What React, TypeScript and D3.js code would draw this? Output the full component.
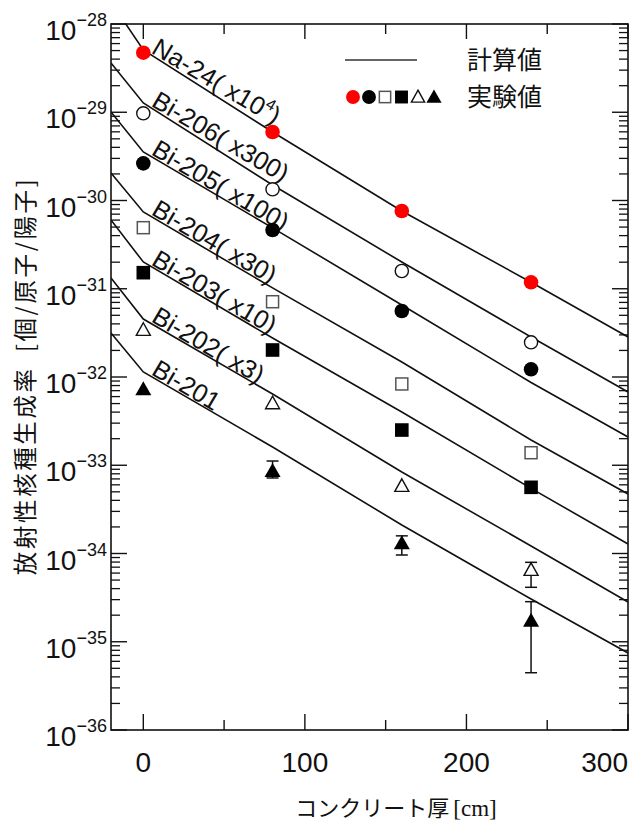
import React from 'react';
import * as d3 from 'd3';

// ---------- data ----------
const xTickMajor = [0, 100, 200, 300];
const xTickMinor = [50, 150, 250];
const yDecades = [-36, -35, -34, -33, -32, -31, -30, -29, -28];

const calcX = [-20, 0, 80, 160, 240, 300];
const na24Calc = [-27.75, -28.295, -29.224, -30.119, -30.927, -31.547];
const bi206Calc = [-28.442, -28.895, -29.824, -30.697, -31.547, -32.17];
const bi205Calc = [-28.997, -29.45, -30.31, -31.184, -32.062, -32.68];
const bi204Calc = [-29.688, -30.13, -30.99, -31.83, -32.714, -33.326];
const bi203Calc = [-30.221, -30.697, -31.558, -32.397, -33.262, -33.892];
const bi202Calc = [-30.878, -31.343, -32.193, -33.076, -33.915, -34.55];
const bi201Calc = [-31.501, -31.943, -32.793, -33.677, -34.516, -35.127];

const expX = [0, 80, 160, 240];
const na24Exp = [-28.325, -29.224, -30.119, -30.927];
const bi206Exp = [-29.012, -29.873, -30.799, -31.607];
const bi205Exp = [-29.579, -30.334, -31.252, -31.913];
const bi204Exp = [-30.308, -31.147, -32.079, -32.858];
const bi203Exp = [-30.818, -31.694, -32.601, -33.25];
const bi202Exp = [-31.467, -32.298, -33.235, -34.187];
const bi201Exp = [-32.139, -33.065, -33.885, -34.761];

// error bars: [x, upper exponent, lower exponent]
const bi202Err = [[240, -34.1, -34.383]];
const bi201Err = [[80, -32.952, -33.144], [160, -33.8, -34.017], [240, -34.546, -35.351]];

const seriesNames = ['Na-24', 'Bi-206', 'Bi-205', 'Bi-204', 'Bi-203', 'Bi-202', 'Bi-201'];
const seriesFactors = ['( x10', '( x300)', '( x100)', '( x30)', '( x10)', '( x3)', ''];
const seriesMarkers = ['red', 'openCircle', 'filledCircle', 'openSquare', 'filledSquare', 'openTriangle', 'filledTriangle'];
const legendMarkers = ['red', 'filledCircle', 'openSquare', 'filledSquare', 'openTriangle', 'filledTriangle'];
const calcSets = [na24Calc, bi206Calc, bi205Calc, bi204Calc, bi203Calc, bi202Calc, bi201Calc];
const expSets = [na24Exp, bi206Exp, bi205Exp, bi204Exp, bi203Exp, bi202Exp, bi201Exp];
const errSets = [[], [], [], [], [], bi202Err, bi201Err];

const legendCalc = '計算値';
const legendExp = '実験値';
const xTitle = 'コンクリート厚';
const xTitleUnit = '[cm]';
const yTitle = '放射性核種生成率\u2002[個/原子/陽子]';

// ---------- layout ----------
const W = 643, H = 824;
const L = 111, R = 628, T = 24, B = 730;
const SANS = '"Liberation Sans", Arial, Helvetica, sans-serif';
const CJK = '"Noto Sans CJK JP", "Noto Sans", sans-serif';

const x = d3.scaleLinear().domain([-20, 300]).range([L, R]);
const y = d3.scaleLog().domain([1e-36, 1e-28]).range([B, T]);
const yE = (e: number) => y(Math.pow(10, e));

function Marker({ type, cx, cy, s = 1 }: { type: string; cx: number; cy: number; s?: number }) {
  const r = 7.3 * s;
  const q = 6.8 * s;
  switch (type) {
    case 'red':
      return <circle cx={cx} cy={cy} r={r} fill="#ff0000" />;
    case 'openCircle':
      return <circle cx={cx} cy={cy} r={r - 0.7} fill="#fff" stroke="#111" strokeWidth={1.4} />;
    case 'filledCircle':
      return <circle cx={cx} cy={cy} r={r} fill="#000" />;
    case 'openSquare':
      return <rect x={cx - q + 0.8} y={cy - q + 0.8} width={2 * q - 1.6} height={2 * q - 1.6} fill="#fff" stroke="#555" strokeWidth={1.5} />;
    case 'filledSquare':
      return <rect x={cx - q} y={cy - q} width={2 * q} height={2 * q} fill="#000" />;
    case 'openTriangle': {
      const w = 8 * s, h1 = 8 * s, h2 = 6 * s;
      return <path d={`M${cx},${cy - h1 + 0.8}L${cx + w - 1},${cy + h2 - 0.6}L${cx - w + 1},${cy + h2 - 0.6}Z`} fill="#fff" stroke="#111" strokeWidth={1.4} />;
    }
    case 'filledTriangle': {
      const w = 8 * s, h1 = 8 * s, h2 = 6 * s;
      return <path d={`M${cx},${cy - h1}L${cx + w},${cy + h2}L${cx - w},${cy + h2}Z`} fill="#000" />;
    }
  }
  return null;
}

export default function App() {
  const line = d3
    .line<[number, number]>()
    .x((d) => x(d[0]))
    .y((d) => yE(d[1]));

  const minorTicks: number[] = [];
  for (let e = -36; e < -28; e++) {
    for (let k = 2; k <= 9; k++) minorTicks.push(e + Math.log10(k));
  }

  const labelAngle = 30.5;

  return (
    <svg width={W} height={H} style={{ position: 'absolute', left: 0, top: 0, background: '#fff' }} fontFamily={SANS}>
      <defs>
        <clipPath id="plotclip">
          <rect x={L} y={T} width={R - L} height={B - T} />
        </clipPath>
      </defs>
      <rect x={0} y={0} width={W} height={H} fill="#fff" />

      {/* calculated lines */}
      <g clipPath="url(#plotclip)">
        {calcSets.map((vals, i) => (
          <path key={i} d={line(calcX.map((cx, j) => [cx, vals[j]] as [number, number])) || ''} fill="none" stroke="#111" strokeWidth={1.6} />
        ))}
      </g>

      {/* labels */}
      {calcSets.map((vals, i) => {
        const x0 = x(calcX[1]);
        const slope = (yE(vals[2]) - yE(vals[1])) / (x(calcX[2]) - x(calcX[1]));
        const lx = x0 + 7;
        const ly = yE(vals[1]) + 7 * slope - 2;
        return (
          <text key={i} transform={`translate(${lx},${ly}) rotate(${labelAngle})`} fontSize={25.5} fill="#111">
            {seriesNames[i]}
            {i === 0 ? (
              <>
                {seriesFactors[i]}
                <tspan fontSize={16} dy={-11}>4</tspan>
                <tspan dy={11}>)</tspan>
              </>
            ) : (
              seriesFactors[i]
            )}
          </text>
        );
      })}

      {/* error bars */}
      {errSets.map((errs, i) =>
        errs.map((e: number[], j: number) => {
          const px = x(e[0]);
          return (
            <g key={`${i}-${j}`} stroke="#111" strokeWidth={1.5}>
              <line x1={px} x2={px} y1={yE(e[1])} y2={yE(e[2])} />
              <line x1={px - 6} x2={px + 6} y1={yE(e[1])} y2={yE(e[1])} />
              <line x1={px - 6} x2={px + 6} y1={yE(e[2])} y2={yE(e[2])} />
            </g>
          );
        })
      )}

      {/* experimental markers */}
      {expSets.map((vals, i) =>
        vals.map((v, j) => <Marker key={`${i}-${j}`} type={seriesMarkers[i]} cx={x(expX[j])} cy={yE(v)} />)
      )}

      {/* frame */}
      <rect x={L} y={T} width={R - L} height={B - T} fill="none" stroke="#111" strokeWidth={1.6} />

      {/* x ticks bottom & top */}
      {xTickMajor.map((t) => (
        <g key={`xm${t}`} stroke="#111" strokeWidth={1.4}>
          <line x1={x(t)} x2={x(t)} y1={B} y2={B - 16} />
          <line x1={x(t)} x2={x(t)} y1={T} y2={T + 15} />
        </g>
      ))}
      {xTickMinor.map((t) => (
        <g key={`xn${t}`} stroke="#111" strokeWidth={1.4}>
          <line x1={x(t)} x2={x(t)} y1={B} y2={B - 10} />
          <line x1={x(t)} x2={x(t)} y1={T} y2={T + 10} />
        </g>
      ))}
      {xTickMajor.map((t, i) => {
        const last = i === xTickMajor.length - 1;
        return (
          <text key={`xl${t}`} x={last ? R : x(t)} y={772} textAnchor={last ? 'end' : 'middle'} fontSize={28} fill="#111">
            {t}
          </text>
        );
      })}

      {/* y ticks left & right */}
      {yDecades.map((e) => (
        <g key={`ym${e}`} stroke="#111" strokeWidth={1.4}>
          <line x1={L} x2={L + 16} y1={yE(e)} y2={yE(e)} />
          <line x1={R} x2={R - 16} y1={yE(e)} y2={yE(e)} />
        </g>
      ))}
      {minorTicks.map((e, i) => (
        <g key={`yn${i}`} stroke="#111" strokeWidth={1.3}>
          <line x1={L} x2={L + 9} y1={yE(e)} y2={yE(e)} />
          <line x1={R} x2={R - 9} y1={yE(e)} y2={yE(e)} />
        </g>
      ))}
      {yDecades.map((e) => (
        <text key={`yl${e}`} x={107} y={yE(e) + 16} textAnchor="end" fill="#111" fontSize={28}>
          <tspan>10</tspan>
          <tspan fontSize={18} dy={-14}>{`\u2212${-e}`}</tspan>
        </text>
      ))}

      {/* axis titles */}
      <text x={396} y={816} textAnchor="middle" fontSize={22} fill="#111" fontFamily={CJK}>
        {xTitle}
        <tspan fontFamily='"Liberation Serif", "Times New Roman", serif' fontSize={23} dx={4}>{xTitleUnit}</tspan>
      </text>
      <text transform={`translate(34,376) rotate(-90)`} textAnchor="middle" fontSize={23.5} fill="#111" fontFamily={CJK} letterSpacing={2.6}>
        {yTitle}
      </text>

      {/* legend */}
      <line x1={345} x2={417} y1={60} y2={60} stroke="#333" strokeWidth={1.6} />
      <text x={467} y={69} fontSize={25} fill="#111" fontFamily={CJK}>{legendCalc}</text>
      {legendMarkers.map((m, i) => (
        <Marker key={`lg${i}`} type={m} cx={[353, 369, 385, 401.5, 418, 434][i]} cy={97} s={0.95} />
      ))}
      <text x={467} y={106} fontSize={25} fill="#111" fontFamily={CJK}>{legendExp}</text>
    </svg>
  );
}
